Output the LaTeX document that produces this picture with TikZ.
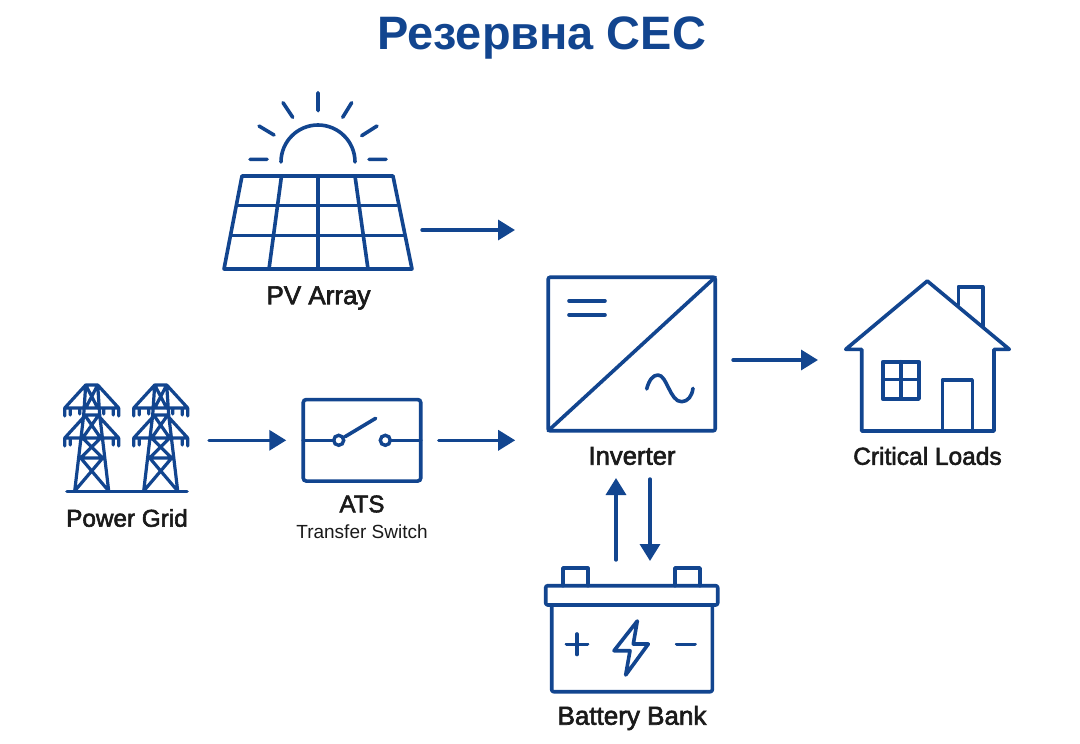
\documentclass[tikz,border=0pt]{standalone}
\usepackage{fontspec}
\setmainfont{Liberation Sans}
\newfontfamily\labfont[FakeBold=2.4]{Liberation Sans}
\usetikzlibrary{arrows.meta}
\definecolor{ink}{HTML}{12458F}
\definecolor{txt}{HTML}{1A1A1A}
\tikzset{
  x=1pt,y=-1pt,
  icon/.style={draw=ink,line width=3.6pt,line cap=round,line join=round},
  thin icon/.style={draw=ink,line width=3.2pt,line cap=round,line join=round},
  flow/.style={draw=ink,line width=3.4pt,line cap=round,-{Triangle[length=17pt,width=20pt]}},
  holder/.style={inner sep=0pt,outer sep=0pt,minimum width=#1},
  devbox/.style={draw=ink,line width=3.6pt,rounded corners=3pt,inner sep=0pt,outer sep=0pt},
  term/.style={draw=ink,line width=3.4pt,circle,fill=white,minimum size=10pt,inner sep=0pt,outer sep=0pt},
  lab/.style={font=\labfont\fontsize{#1}{28}\selectfont,text=txt,anchor=center,inner sep=0pt},
  sublab/.style={font=\fontsize{19}{22}\selectfont,text=txt,anchor=center,inner sep=0pt},
  ttl/.style={font=\bfseries\fontsize{46.9}{56}\selectfont,text=ink,anchor=center,inner sep=0pt},
}
\begin{document}
\begin{tikzpicture}
\useasboundingbox (0,0) rectangle (1080,744);
\fill[white] (0,0) rectangle (1080,744);
\node[ttl] (title) at (541.5,38) {Резервна СЕС};

% PV array
\draw[icon] (242,176) -- (393,176) -- (412,269) -- (224,269) -- cycle;
\draw[icon] (237.5,205.5) -- (397,205.5) (232,235.5) -- (404,235.5);
\draw[icon] (281.5,176) -- (269,269) (318,176) -- (318,269) (355,176) -- (368,269);
\draw[icon] (281,162) arc[start angle=180,end angle=360,radius=37];
\draw[icon] (250,159.3) -- (267,159.3) (259,126) -- (274,135) (283,102.7) -- (292.7,117.3)
  (318,92.7) -- (318,110.7) (351.7,102.7) -- (342.7,117.3) (377,126) -- (361.7,135.7) (369,159.3) -- (386,159.3);
\node[lab=26] (pvlabel) at (318.5,298) {PV Array};
\coordinate (pvport) at (422,230);
\coordinate (pvend) at (515,230);

% Grid
\foreach \c in {91.7,160.7}{
 \begin{scope}[shift={(\c,0)}]
 \draw[thin icon] (-6,385) -- (6,385)
   (-6,385) -- (-27,408) -- (27,408) -- (6,385)
   (-27,408) -- (-27,416) (-21.5,408) -- (-21.5,415) (-12,408) -- (-12,414) (27,408) -- (27,416) (21.5,408) -- (21.5,415) (12,408) -- (12,414)
   (-6,415) -- (-27,438) -- (27,438) -- (6,415)
   (-27,438) -- (-27,446) (-21.5,438) -- (-21.5,445) (27,438) -- (27,446) (21.5,438) -- (21.5,445)
   (-6,385) -- (-8,415) -- (-17,491) (6,385) -- (8,415) -- (17,491)
   (-6,385) -- (6,408) (6,385) -- (-6,408)
   (-7,415) -- (7,415)
   (-7,415) -- (9,438) (7,415) -- (-9,438)
   (-9,438) -- (11,458) (9,438) -- (-11,458)
   (-11,458) -- (11,458)
   (-11,458) -- (17,491) (11,458) -- (-17,491);
 \end{scope}
}
\draw[icon] (67,491.5) -- (187,491.5);
\node[holder=120pt,minimum height=106pt] (grid) at (127,438.5) {};
\node[lab=24.3] (gridlabel) at (127,518) {Power Grid};

% ATS
\node[devbox,minimum width=117.5pt,minimum height=81.5pt] (ats) at (362,440.3) {};
\node[term] (c1) at (338.7,440.3) {};
\node[term] (c2) at (385.3,440.3) {};
\draw[icon] (ats.west) -- (c1);
\draw[icon] (c2) -- (ats.east);
\draw[icon] (345,436.7) -- (375.7,418.3);
\node[lab=24] (atslabel) at (362,504) {ATS};
\node[sublab] (atssub) at (362,532) {Transfer Switch};

% Inverter
\node[devbox,rounded corners=2pt,minimum width=167pt,minimum height=153.5pt] (inv) at (631.7,354) {};
\draw[icon] (inv.south west) -- (inv.north east);
\draw[icon] (569,300.7) -- (605,300.7) (569,315) -- (605,315);
\draw[icon] (646.7,389) .. controls (649,380) and (653,375) .. (658,375) .. controls (667,375) and (670,402) .. (681.7,401.7) .. controls (688,401.5) and (692,396) .. (693,388.3);
\node[lab=25.7] (invlabel) at (632,456) {Inverter};

% House
\draw[icon] (927.3,281) -- (1009.3,349.3) -- (994,349.3) -- (994,431) -- (861.7,431) -- (861.7,349.3) -- (845.7,349.3) -- cycle;
\draw[icon] (958.3,305) -- (958.3,286.7) -- (982.7,286.7) -- (982.7,326.7);
\draw[icon] (882.7,361.7) rectangle (919,399);
\draw[icon] (900.7,361.7) -- (900.7,399) (882.7,379.3) -- (919,379.3);
\draw[icon] (942.3,431) -- (942.3,380) -- (972.3,380) -- (972.3,431);
\node[holder=164pt,minimum height=150pt] (house) at (927.5,356) {};
\node[lab=24.5] (houselabel) at (927.5,456) {Critical Loads};

% Battery
\draw[icon] (563,585.7) -- (563,568) -- (587.7,568) -- (587.7,585.7);
\draw[icon] (675,585.7) -- (675,568) -- (700,568) -- (700,585.7);
\draw[icon,rounded corners=2pt] (545.7,585.7) rectangle (717.7,605);
\draw[icon,rounded corners=2pt] (551.7,605) -- (551.7,691.7) -- (712.3,691.7) -- (712.3,605);
\draw[icon] (566.5,644.3) -- (587.5,644.3) (577,634) -- (577,654.5) (676.7,644.3) -- (695,644.3);
\draw[icon] (637.3,621) -- (614,650.7) -- (630,650.7) -- (625.7,675) -- (648.3,644) -- (633.3,644) -- cycle;
\node[holder=172pt,minimum height=124pt] (batt) at (632,630) {};
\node[lab=26] (battlabel) at (632,718) {Battery Bank};

% connectors
\draw[flow] (pvport) -- (pvend);
\coordinate (gridport) at (209,440.3);
\draw[flow,shorten >=17pt] (gridport) -- (ats.west);
\draw[flow,shorten <=18pt,shorten >=33pt] (ats.east) -- (inv.west |- ats.east);
\coordinate (invout) at (733,360);
\coordinate (houseend) at (818,360);
\draw[flow] (invout) -- (houseend);
\coordinate (uA) at (616,560); \coordinate (uB) at (616,478);
\coordinate (dA) at (650,479); \coordinate (dB) at (650,561);
\draw[flow] (uA) -- (uB);
\draw[flow] (dA) -- (dB);
\end{tikzpicture}
\end{document}
